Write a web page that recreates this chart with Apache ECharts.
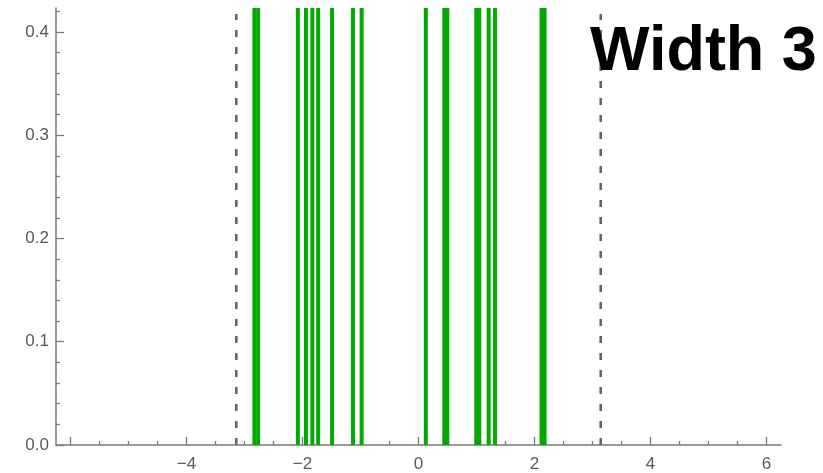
<!DOCTYPE html>
<html>
<head>
<meta charset="utf-8">
<script src="https://cdn.jsdelivr.net/npm/echarts@6/dist/echarts.min.js"></script>
<style>
  html, body { margin: 0; padding: 0; background: #fff; }
  #chart { width: 823px; height: 473px; }
</style>
</head>
<body>
<div id="chart"></div>
<script>
// Phase positions of the spectral lines (radians)
const linePositions = [
  -2.83, -2.765, -2.08, -1.94, -1.83, -1.73, -1.49, -1.13, -0.98,
  0.126, 0.445, 0.497, 0.996, 1.048, 1.21, 1.32, 2.122, 2.174
];
// Dashed boundaries at -pi and +pi
const boundaries = [-Math.PI, Math.PI];

// Axis ranges
const xRange = [-6.25, 6.25];
const yRange = [0, 0.4232];

// Tick values
const xMajorTicks = [-6, -4, -2, 0, 2, 4, 6];
const xTickLabels = [-4, -2, 0, 2, 4, 6];
const xMinorTicks = [-5.5, -5, -4.5, -3.5, -3, -2.5, -1.5, -1, -0.5,
  0.5, 1, 1.5, 2.5, 3, 3.5, 4.5, 5, 5.5];
const yMajorTicks = [0, 0.1, 0.2, 0.3, 0.4];
const yTickLabels = [0, 0.1, 0.2, 0.3, 0.4];
const yMinorTicks = [0.02, 0.04, 0.06, 0.08, 0.12, 0.14, 0.16, 0.18,
  0.22, 0.24, 0.26, 0.28, 0.32, 0.34, 0.36, 0.38, 0.42];

const titleText = 'Width 3';

const axisGray = '#7a7a7a';
const labelStyle = {
  color: '#555a60',
  fontFamily: 'Liberation Sans, Arial, sans-serif',
  fontSize: 17
};

function minusFmt(v) {
  return v < 0 ? '\u2212' + Math.abs(v) : String(v);
}

const chart = echarts.init(document.getElementById('chart'), null, { renderer: 'canvas' });

chart.setOption({
  animation: false,
  backgroundColor: '#ffffff',
  grid: { left: 56, right: 42, top: 8, bottom: 28, containLabel: false },
  xAxis: [
    {
      type: 'value', min: xRange[0], max: xRange[1], position: 'bottom',
      axisLine: { show: true, onZero: false, lineStyle: { color: axisGray, width: 1.5 } },
      axisTick: { show: true, inside: true, length: 8, customValues: xMajorTicks,
        lineStyle: { color: axisGray, width: 1.3 } },
      axisLabel: Object.assign({ show: true, margin: 11, customValues: xTickLabels,
        formatter: minusFmt }, labelStyle),
      splitLine: { show: false }
    },
    {
      type: 'value', min: xRange[0], max: xRange[1], position: 'bottom',
      axisLine: { show: false, onZero: false },
      axisTick: { show: true, inside: true, length: 4, customValues: xMinorTicks,
        lineStyle: { color: axisGray, width: 1.3 } },
      axisLabel: { show: false },
      splitLine: { show: false }
    }
  ],
  yAxis: [
    {
      type: 'value', min: yRange[0], max: yRange[1], position: 'left',
      axisLine: { show: true, onZero: false, lineStyle: { color: axisGray, width: 1.5 } },
      axisTick: { show: true, inside: true, length: 8, customValues: yMajorTicks,
        lineStyle: { color: axisGray, width: 1.3 } },
      axisLabel: Object.assign({ show: true, margin: 7, customValues: yTickLabels,
        formatter: v => v.toFixed(1) }, labelStyle),
      splitLine: { show: false }
    },
    {
      type: 'value', min: yRange[0], max: yRange[1], position: 'left',
      axisLine: { show: false, onZero: false },
      axisTick: { show: true, inside: true, length: 4, customValues: yMinorTicks,
        lineStyle: { color: axisGray, width: 1.3 } },
      axisLabel: { show: false },
      splitLine: { show: false }
    }
  ],
  graphic: [
    {
      type: 'text', left: 590, top: 21, z: 10,
      style: {
        text: titleText,
        fill: '#000000',
        font: 'bold 63px "Liberation Sans", Arial, sans-serif'
      }
    }
  ],
  series: [
    {
      // vertical dashed boundaries
      type: 'custom', xAxisIndex: 0, yAxisIndex: 0,
      data: boundaries.map(b => [b]),
      clip: true,
      renderItem: function (params, api) {
        const p = api.coord([api.value(0), yRange[0]]);
        const top = api.coord([api.value(0), yRange[1]]);
        return {
          type: 'line',
          shape: { x1: p[0], y1: p[1], x2: p[0], y2: top[1] + 6 },
          style: { stroke: '#666666', lineWidth: 2.6, lineDash: [7, 10], lineDashOffset: 0 }
        };
      }
    },
    {
      // green spectral lines running to the top of the plot
      type: 'custom', xAxisIndex: 0, yAxisIndex: 0,
      data: linePositions.map(v => [v]),
      clip: true,
      renderItem: function (params, api) {
        const p = api.coord([api.value(0), yRange[0]]);
        const top = api.coord([api.value(0), yRange[1]]);
        return {
          type: 'line',
          shape: { x1: p[0], y1: p[1], x2: p[0], y2: top[1] },
          style: { stroke: '#00aa00', lineWidth: 4 }
        };
      }
    }
  ]
});
</script>
</body>
</html>
